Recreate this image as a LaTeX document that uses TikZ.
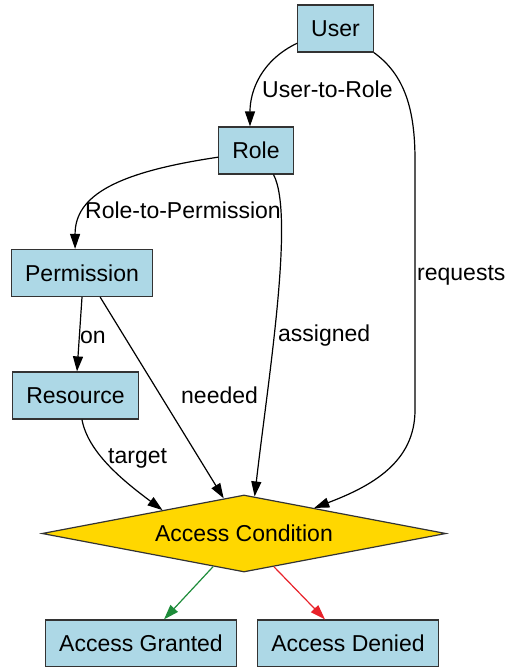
\documentclass[tikz,border=0pt]{standalone}
\usepackage{fontspec}
\setmainfont{Liberation Sans}
\usetikzlibrary{shapes.geometric,arrows.meta,calc}
\definecolor{boxblue}{HTML}{ADD8E6}
\definecolor{condgold}{HTML}{FFD700}
\definecolor{okgreen}{HTML}{1E8C3A}
\definecolor{nored}{HTML}{E8222A}
\tikzset{
  box/.style={draw=black!80, fill=boxblue, line width=1.2pt, inner xsep=13.5pt,
    minimum height=47pt, font=\fontsize{23}{27}\selectfont},
  cond/.style={diamond, draw=black!80, fill=condgold, line width=1.2pt, inner sep=0pt,
    aspect=5, minimum width=404pt, minimum height=77pt, font=\fontsize{23}{27}\selectfont},
  lbl/.style={anchor=base west, inner sep=0pt, font=\fontsize{23}{27}\selectfont},
  edge/.style={line width=1.2pt, -{Triangle[length=15pt,width=10pt]}}
}
\begin{document}
\begin{tikzpicture}[x=1pt, y=-1pt]
    \useasboundingbox (0,0) rectangle (506,667);

    % Boxes
    \node[box] (user) at (335.5,28.5) {User};
    \node[box] (role) at (256,150.5) {Role};
    \node[box] (perm) at (82,273) {Permission};
    \node[box] (res) at (75.5,395.5) {Resource};
    \node[cond] (ac) at (244,533.5) {Access Condition};
    \node[box] (granted) at (141,643.5) {Access Granted};
    \node[box] (denied) at (348,643.5) {Access Denied};

    % Edges
    \draw[edge] (user.201) .. controls (262,60) and (250,90) .. (role.104);
    \draw[edge] (user.south east) .. controls (405,75) and (415,110) .. (415,160)
        -- (415,410) .. controls (415,462) and (372,486) .. (ac.20);
    \draw[edge] (role.190) .. controls (118,172) and (75,195) .. (perm.106);
    \draw[edge] (role.306) .. controls (295,215) and (268,380) .. (ac.74);
    \draw[edge] (perm.south) -- ($(res.north)+(1.5,0)$);
    \draw[edge] (perm.307) -- (ac.120);
    \draw[edge] (res.285) .. controls (88,452) and (122,480) .. (ac.164);
    \draw[edge, draw=okgreen, -{Triangle[length=15pt,width=10pt,fill=okgreen]}] (ac.227) -- ($(granted.north)+(23,0)$);
    \draw[edge, draw=nored, -{Triangle[length=15pt,width=10pt,fill=nored]}] (ac.312) -- ($(denied.north)+(-23,0)$);

    % Labels
    \node[lbl] (lusertorole) at (262,97) {User-to-Role};
    \node[lbl] (lrequests) at (417,280) {requests};
    \node[lbl] (lroletoperm) at (85,218) {Role-to-Permission};
    \node[lbl] (lassigned) at (278,341) {assigned};
    \node[lbl] (lon) at (80,343) {on};
    \node[lbl] (lneeded) at (181,403) {needed};
    \node[lbl] (ltarget) at (108,463) {target};
\end{tikzpicture}
\end{document}
